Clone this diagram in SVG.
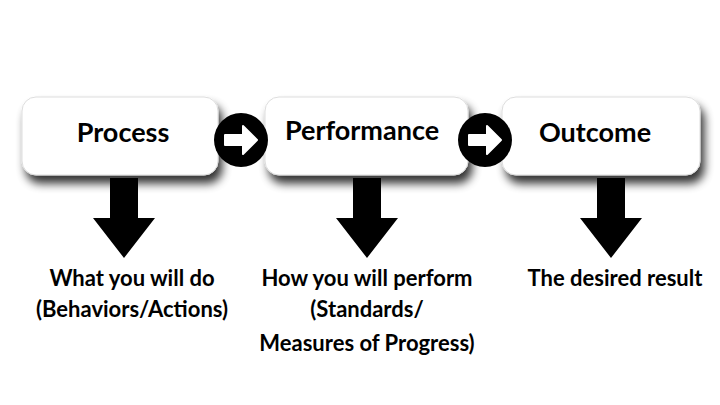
<svg xmlns="http://www.w3.org/2000/svg" width="720" height="405" viewBox="0 0 720 405">
<defs>
<style>
.box{fill:#fff;stroke:#ddd;stroke-width:1}
.t{font-family:Lato,"Open Sans",sans-serif;font-weight:bold;fill:#000;text-anchor:middle}
</style>
<filter id="sh" x="-20%" y="-20%" width="150%" height="160%">
<feGaussianBlur in="SourceAlpha" stdDeviation="5"/>
<feOffset dx="4" dy="8"/>
<feComponentTransfer><feFuncA type="linear" slope="0.8"/></feComponentTransfer>
<feMerge><feMergeNode/><feMergeNode in="SourceGraphic"/></feMerge>
</filter>
<g id="down"><path d="M-14,0 H14 V40 H31 L0,80 L-31,40 H-14 Z" fill="#000"/></g>
<g id="circ"><circle r="27" fill="#000"/><path d="M-16,-5 H2 V-14 L16,0 L2,14 V5 H-16 Z" fill="#fff" stroke="#fff" stroke-linejoin="round" stroke-width="2"/></g>
</defs>
<rect width="720" height="405" fill="#fff"/>
<g id="n1"><rect class="box" x="22" y="97" width="196" height="78" rx="14" filter="url(#sh)"/><text class="t" x="123" y="142" font-size="27">Process</text></g>
<g id="n2"><rect class="box" x="265" y="97" width="203" height="78" rx="14" filter="url(#sh)"/><text class="t" x="362" y="140" font-size="27">Performance</text></g>
<g id="n3"><rect class="box" x="502" y="97" width="198" height="78" rx="14" filter="url(#sh)"/><text class="t" x="595" y="142" font-size="27">Outcome</text></g>
<g id="connectors">
<use href="#circ" x="241" y="140"/>
<use href="#circ" x="485" y="140"/>
<use href="#down" x="124" y="178"/>
<use href="#down" x="367" y="178"/>
<use href="#down" x="611" y="178"/>
</g>
<g id="labels">
<text class="t" x="132" y="286" font-size="22">What you will do</text>
<text class="t" x="132" y="317" font-size="22">(Behaviors/Actions)</text>
<text class="t" x="367" y="286" font-size="22">How you will perform</text>
<text class="t" x="367" y="317" font-size="22">(Standards/</text>
<text class="t" x="367" y="351" font-size="22">Measures of Progress)</text>
<text class="t" x="615" y="286" font-size="22">The desired result</text>
</g>
</svg>
